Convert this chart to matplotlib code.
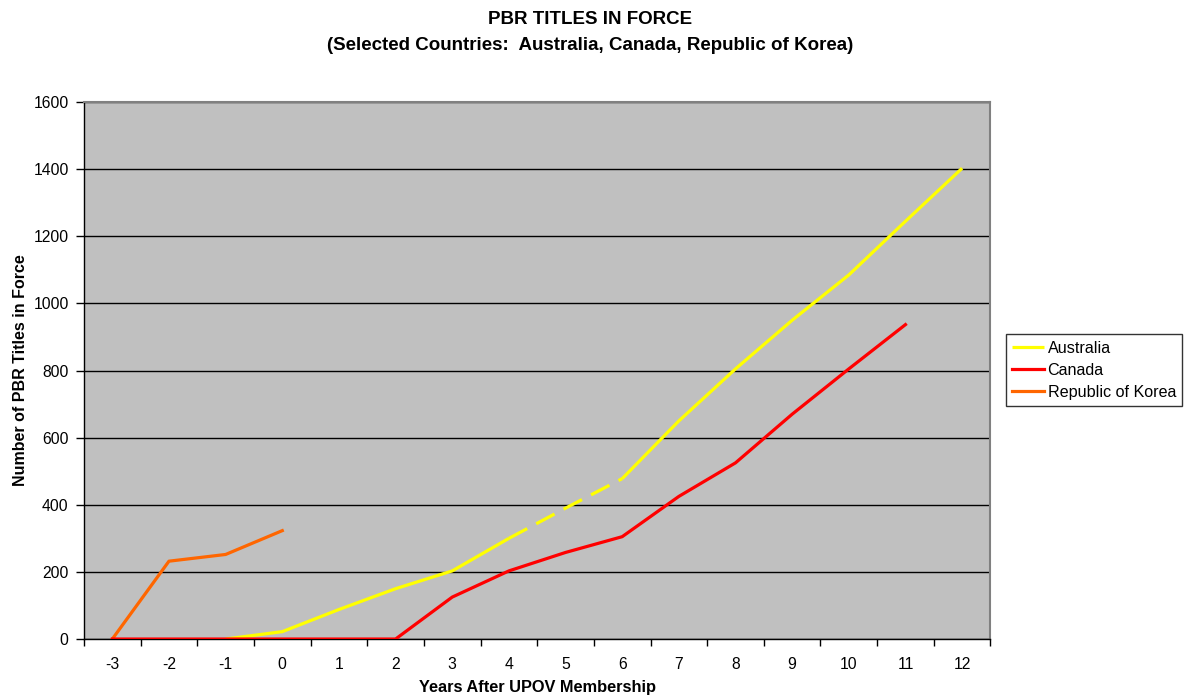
import matplotlib
matplotlib.use("Agg")
import matplotlib.pyplot as plt
import numpy as np

plt.rcParams['font.family'] = ['Liberation Sans', 'DejaVu Sans']

years = list(range(-3, 13))
australia_years = [-1, 0, 1, 2, 3, 4, 5, 6, 7, 8, 9, 10, 11, 12]
australia = [0, 22, 88, 150, 203, 300, 390, 478, 650, 805, 950, 1085, 1245, 1403]
canada_years = [-3, -2, -1, 0, 1, 2, 3, 4, 5, 6, 7, 8, 9, 10, 11]
canada = [0, 0, 0, 0, 0, 0, 125, 203, 258, 305, 425, 525, 670, 805, 937]
korea_years = [-3, -2, -1, 0]
korea = [0, 232, 252, 323]

fig = plt.figure(figsize=(11.88, 7.0), dpi=100)
ax = fig.add_axes([0.0707, 0.0871, 0.763, 0.767])
ax.set_facecolor('#C0C0C0')

ax.set_xlim(years[0] - 0.5, years[-1] + 0.5)
ax.set_ylim(0, 1600)
ax.set_yticks(np.arange(0, 1601, 200))
ax.yaxis.grid(True, color='black', linewidth=1.0)
ax.set_axisbelow(True)

ax.set_xticks(years)
ax.set_xticklabels([str(y) for y in years])
ax.set_xticks(np.arange(years[0] - 0.5, years[-1] + 1, 1), minor=True)
ax.tick_params(axis='x', which='major', length=0, pad=13)
ax.tick_params(axis='x', which='minor', length=5, width=1, color='black', direction='out')
ax.tick_params(axis='y', length=6, width=1, direction='out', pad=5)
ax.tick_params(labelsize=11.3)

for s in ['left', 'bottom']:
    ax.spines[s].set_color('black')
    ax.spines[s].set_linewidth(1)
for s in ['top', 'right']:
    ax.spines[s].set_color('#808080')
    ax.spines[s].set_linewidth(1.5)

lw = 2.3
ay = np.array(australia_years)
av = np.array(australia)
i4 = australia_years.index(4)
i6 = australia_years.index(6)
ax.plot(ay[:i4 + 1], av[:i4 + 1], color='#FFFF00', lw=lw, zorder=3, label='Australia',
        solid_capstyle='butt')
ax.plot(ay[i4:i6 + 1], av[i4:i6 + 1], color='#FFFF00', lw=lw, zorder=3, dashes=(6.5, 3.2))
ax.plot(ay[i6:], av[i6:], color='#FFFF00', lw=lw, zorder=3, solid_capstyle='butt')
ax.plot(canada_years, canada, color='#FF0000', lw=lw, zorder=5, label='Canada')
ax.plot(korea_years, korea, color='#FF6600', lw=lw, zorder=4, label='Republic of Korea')

h, l = ax.get_legend_handles_labels()
leg = fig.legend(h, l, loc='center left', bbox_to_anchor=(0.8465, 0.471), fontsize=11.6,
                 frameon=True, fancybox=False, edgecolor='black', borderpad=0.4,
                 handlelength=2.0, handletextpad=0.2, labelspacing=0.45, borderaxespad=0)
leg.get_frame().set_linewidth(1)

ax.set_xlabel('Years After UPOV Membership', fontsize=11.8, fontweight='bold', labelpad=6)
ax.set_ylabel('Number of PBR Titles in Force', fontsize=11.5, fontweight='bold', labelpad=4)
fig.text(0.497, 0.953, 'PBR TITLES IN FORCE\n(Selected Countries:  Australia, Canada, Republic of Korea)',
         ha='center', va='center', fontsize=13.5, fontweight='bold', linespacing=1.7)

fig.savefig('out.png', dpi=100)
